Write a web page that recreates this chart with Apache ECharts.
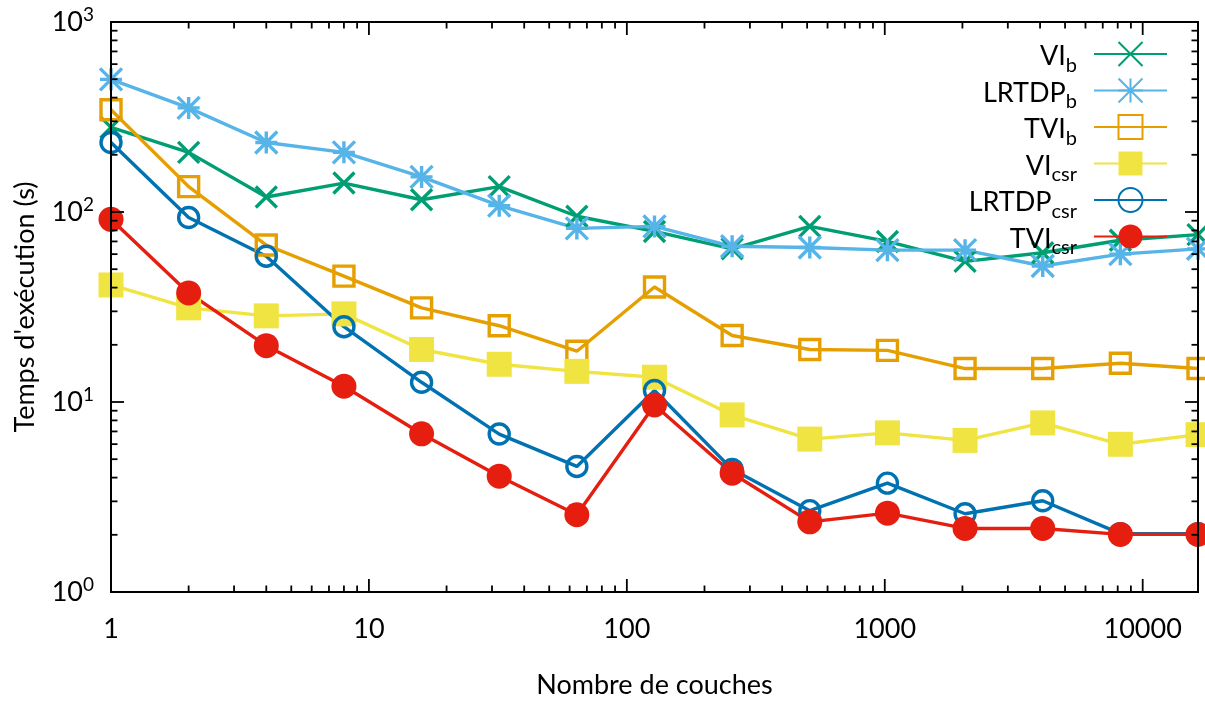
<!DOCTYPE html>
<html><head><meta charset="utf-8">
<script src="https://cdn.jsdelivr.net/npm/echarts@6/dist/echarts.min.js"></script>
<style>html,body{margin:0;padding:0;background:#fff}#c{width:1205px;height:704px}</style>
</head><body><div id="c"></div>
<script>
// ---- data ----
const layers    = [1, 2, 4, 8, 16, 32, 64, 128, 256, 512, 1024, 2048, 4096, 8192, 16384];
const viB       = [279, 206, 120, 142, 116, 136, 95, 79, 64, 84, 70, 55, 61, 71, 76];
const lrtdpB    = [499, 353, 232, 206, 153, 108, 82, 84, 66, 65, 63, 63, 52, 60, 64];
const tviB      = [345, 136, 67, 46, 31.3, 25.2, 18.5, 40.3, 22.4, 18.9, 18.7, 15.0, 15.0, 16.0, 15.0];
const viCsr     = [41.3, 31.3, 28.4, 29.1, 18.9, 15.8, 14.5, 13.5, 8.55, 6.38, 6.88, 6.28, 7.76, 5.99, 6.73];
const lrtdpCsr  = [232, 93.5, 58.5, 24.9, 12.7, 6.78, 4.58, 11.5, 4.42, 2.68, 3.74, 2.58, 3.02, 2.03, 2.03];
const tviCsr    = [91.5, 37.5, 19.8, 12.1, 6.8, 4.07, 2.55, 9.65, 4.22, 2.34, 2.6, 2.16, 2.16, 2.01, 2.01];

const seriesNames  = ['VIb', 'LRTDPb', 'TVIb', 'VIcsr', 'LRTDPcsr', 'TVIcsr'];
const legendLabels = {VIb: '{m|VI}{s|b}', LRTDPb: '{m|LRTDP}{s|b}', TVIb: '{m|TVI}{s|b}',
                      VIcsr: '{m|VI}{s|csr}', LRTDPcsr: '{m|LRTDP}{s|csr}', TVIcsr: '{m|TVI}{s|csr}'};
const xMajorTicks = [1, 10, 100, 1000, 10000];
const xTickLabels = ['1', '10', '100', '1000', '10000'];
const yMajorTicks = [1, 10, 100, 1000];
const yTickLabels = ['{m|10}{s|0}', '{m|10}{s|1}', '{m|10}{s|2}', '{m|10}{s|3}'];
const xMin = 1, xMax = 16384, yMin = 1, yMax = 1000;

// ---- styling ----
const FONT = 'Lato';
const FS = 27;
const colors = {VIb: '#009e73', LRTDPb: '#56b4e9', TVIb: '#e69f00', VIcsr: '#f0e442', LRTDPcsr: '#0072b2', TVIcsr: '#e51e10'};
const crossPath = 'path://M0,0L10,10M10,0L0,10';
const starPath = 'path://M5,0L5,10M0,5L10,5M0,0L10,10M10,0L0,10';

function pairs(vals) { return layers.map((x, i) => [x, vals[i]]); }

function lineSeries(name, vals, symbol, size, hollow, stroked) {
  const c = colors[name];
  return {
    name: name, type: 'line', data: pairs(vals), clip: false,
    symbol: symbol, symbolSize: size, showAllSymbol: true,
    lineStyle: {color: c, width: 3.4},
    itemStyle: hollow || stroked
      ? {color: stroked ? c : 'rgba(0,0,0,0)', borderColor: c, borderWidth: 3.4}
      : {color: c, borderWidth: 0},
    emphasis: {disabled: true}
  };
}

// tick marks (axis decoration)
const tickData = [];
xMajorTicks.forEach(v => {
  tickData.push([v, yMin, 0]);
  for (let m = 2; m <= 9; m++) { if (v * m < xMax) tickData.push([v * m, yMin, 1]); }
});
yMajorTicks.forEach(v => {
  tickData.push([xMin, v, 2]);
  if (v < yMax) for (let m = 2; m <= 9; m++) tickData.push([xMin, v * m, 3]);
});
tickData.push([xMin, yMin, 4]);

const chart = echarts.init(document.getElementById('c'), null, {renderer: 'canvas'});
chart.setOption({
  animation: false,
  backgroundColor: '#fff',
  grid: {left: 111, right: 7, top: 22, bottom: 107, containLabel: false},
  xAxis: {
    type: 'log', logBase: 10, min: xMin, max: xMax,
    name: 'Nombre de couches', nameLocation: 'middle', nameGap: 80,
    nameTextStyle: {fontFamily: FONT, fontSize: FS, color: '#000'},
    axisLine: {show: false}, axisTick: {show: false}, splitLine: {show: false},
    axisLabel: {
      fontFamily: FONT, fontSize: FS, color: '#000', margin: 24, showMaxLabel: false,
      formatter: function (v) { const i = xMajorTicks.indexOf(Math.round(v)); return i >= 0 ? xTickLabels[i] : ''; }
    }
  },
  yAxis: {
    type: 'log', logBase: 10, min: yMin, max: yMax,
    name: "Temps d'exécution (s)", nameLocation: 'middle', nameGap: 72,
    nameTextStyle: {fontFamily: FONT, fontSize: FS, color: '#000'},
    axisLine: {show: false}, axisTick: {show: false}, splitLine: {show: false},
    axisLabel: {
      margin: 17, color: '#000',
      formatter: function (v) { const i = yMajorTicks.indexOf(Math.round(v)); return i >= 0 ? yTickLabels[i] : ''; },
      rich: {
        m: {fontFamily: FONT, fontSize: FS, lineHeight: 32, color: '#000'},
        s: {fontFamily: FONT, fontSize: 19, height: 17, verticalAlign: 'top', color: '#000'}
      }
    }
  },
  legend: {
    orient: 'vertical', right: 37, top: 39, align: 'right', padding: 0,
    itemWidth: 73, itemHeight: 30, itemGap: 0, selectedMode: false,
    data: seriesNames,
    formatter: function (n) { return legendLabels[n]; },
    textStyle: {
      padding: [0, 12, 0, 0], color: '#000', height: 30, lineHeight: 30,
      rich: {
        m: {fontFamily: FONT, fontSize: FS, lineHeight: 30, height: 25, verticalAlign: 'bottom', color: '#000'},
        s: {fontFamily: FONT, fontSize: 20, height: 7, lineHeight: 7, verticalAlign: 'bottom', color: '#000'}
      }
    }
  },
  series: [
    lineSeries('VIb', viB, crossPath, 21, false, true),
    lineSeries('LRTDPb', lrtdpB, starPath, 22, false, true),
    lineSeries('TVIb', tviB, 'rect', 20, true, false),
    lineSeries('VIcsr', viCsr, 'rect', 25, false, false),
    lineSeries('LRTDPcsr', lrtdpCsr, 'circle', 20, true, false),
    lineSeries('TVIcsr', tviCsr, 'circle', 25, false, false),
    {
      type: 'custom', name: 'ticks', data: tickData, silent: true, clip: false, z: 10,
      renderItem: function (params, api) {
        const cs = params.coordSys;
        const kind = api.value(2);
        const st = {stroke: '#000', lineWidth: 1.8};
        if (kind === 4) {
          return {type: 'rect', shape: {x: cs.x, y: cs.y, width: cs.width, height: cs.height},
                  style: {fill: 'none', stroke: '#000', lineWidth: 2}};
        }
        const p = api.coord([api.value(0), api.value(1)]);
        const len = (kind === 0 || kind === 2) ? 13 : 6.5;
        if (kind < 2) {
          const b = cs.y + cs.height;
          return {type: 'group', children: [
            {type: 'line', shape: {x1: p[0], y1: b, x2: p[0], y2: b - len}, style: st},
            {type: 'line', shape: {x1: p[0], y1: cs.y, x2: p[0], y2: cs.y + len}, style: st}
          ]};
        }
        const r = cs.x + cs.width;
        return {type: 'group', children: [
          {type: 'line', shape: {x1: cs.x, y1: p[1], x2: cs.x + len, y2: p[1]}, style: st},
          {type: 'line', shape: {x1: r, y1: p[1], x2: r - len, y2: p[1]}, style: st}
        ]};
      }
    }
  ]
});
</script></body></html>
